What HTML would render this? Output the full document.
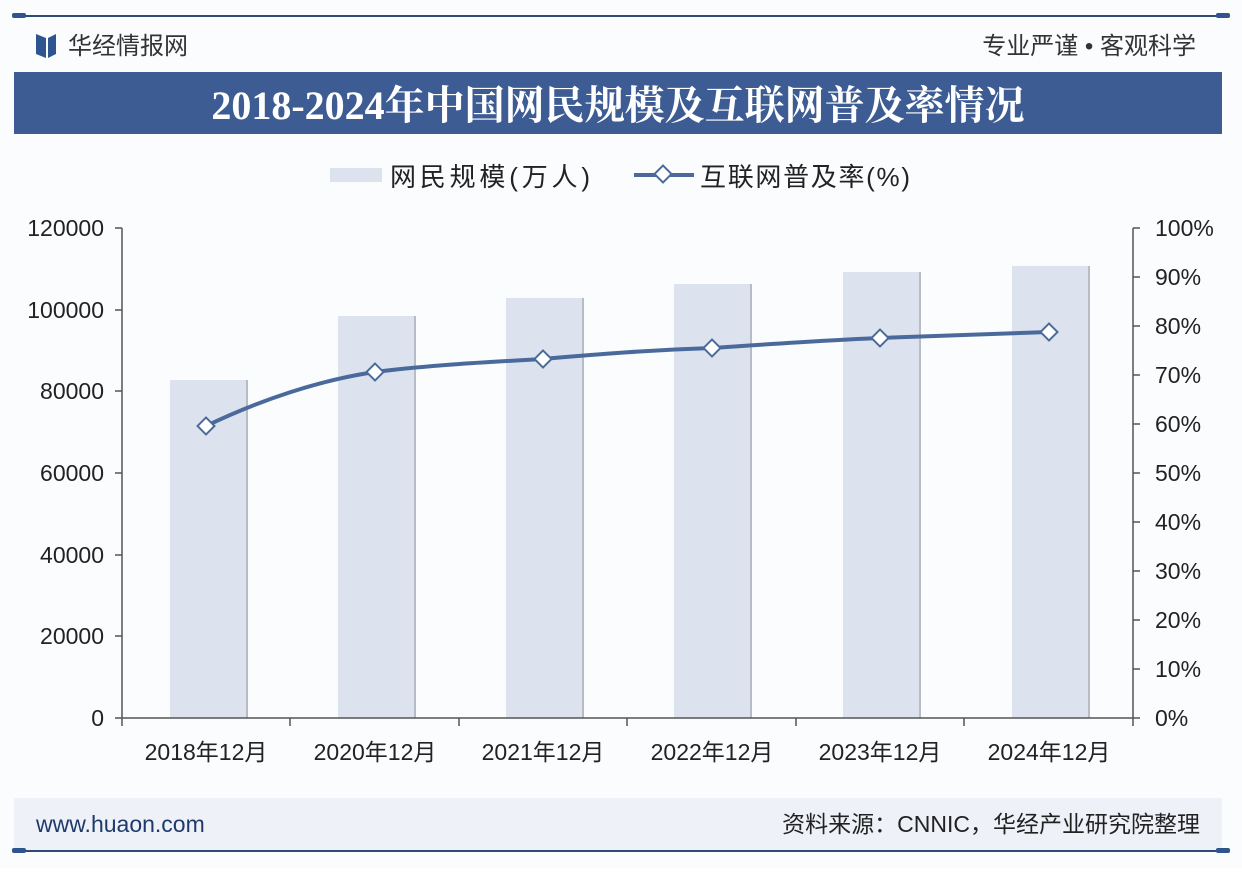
<!DOCTYPE html>
<html><head><meta charset="utf-8"><style>
body{margin:0;width:1242px;height:868px;background:#fff;overflow:hidden;font-family:"Liberation Sans","Noto Sans CJK SC",sans-serif}
</style></head><body>
<svg width="1242" height="868" xmlns="http://www.w3.org/2000/svg" style="font-family:'Liberation Sans','Noto Sans CJK SC',sans-serif">
<rect x="0" y="0" width="1242" height="868" fill="#fbfcfd"/>
<line x1="14" y1="16" x2="1228" y2="16" stroke="#2f4a75" stroke-width="2"/>
<rect x="12" y="13" width="14" height="5" rx="2" fill="#2f5590"/><rect x="1216" y="13" width="14" height="5" rx="2" fill="#2f5590"/>
<path d="M36 34 L46 38 L46 58 L36 54Z M56 34 L48 38 L48 58 L56 54Z" fill="#2f5590"/>
<text x="68" y="54" font-size="24" fill="#333">华经情报网</text>
<text x="1196" y="54" font-size="24" fill="#333" text-anchor="end">专业严谨 • 客观科学</text>
<rect x="14" y="72" width="1208" height="62" fill="#3d5c93"/>
<text x="618" y="119" font-size="40" font-weight="bold" fill="#fff" text-anchor="middle" font-family="'Liberation Serif','Noto Serif CJK SC',serif">2018-2024年中国网民规模及互联网普及率情况</text>
<rect x="330" y="168" width="52" height="14" fill="#dde3ee"/>
<text x="390" y="186" font-size="26" fill="#222" textLength="200">网民规模(万人)</text>
<line x1="634" y1="175" x2="694" y2="175" stroke="#4a6a9c" stroke-width="4"/>
<rect x="657" y="168" width="12" height="12" fill="#fff" stroke="#4a6a9c" stroke-width="2" transform="rotate(45 663 174)"/>
<text x="700" y="186" font-size="26" fill="#222" textLength="210">互联网普及率(%)</text>
<g fill="#dde3ee">
<rect x="170" y="380" width="76" height="338"/>
<rect x="338" y="316" width="76" height="402"/>
<rect x="506" y="298" width="76" height="420"/>
<rect x="674" y="284" width="76" height="434"/>
<rect x="843" y="272" width="76" height="446"/>
<rect x="1012" y="266" width="76" height="452"/>
</g>
<g stroke="#b8bcc4" stroke-width="2">
<line x1="247" y1="380" x2="247" y2="718"/><line x1="415" y1="316" x2="415" y2="718"/><line x1="583" y1="298" x2="583" y2="718"/><line x1="751" y1="284" x2="751" y2="718"/><line x1="920" y1="272" x2="920" y2="718"/><line x1="1089" y1="266" x2="1089" y2="718"/>
</g>
<g stroke="#555" stroke-width="1.5" fill="none">
<line x1="122" y1="228" x2="122" y2="718"/><line x1="1133" y1="228" x2="1133" y2="718"/>
<line x1="115" y1="718" x2="1140" y2="718"/>
</g>
<g stroke="#555" stroke-width="1.5">
<line x1="115" y1="228" x2="122" y2="228"/><line x1="115" y1="310" x2="122" y2="310"/><line x1="115" y1="391" x2="122" y2="391"/><line x1="115" y1="473" x2="122" y2="473"/><line x1="115" y1="555" x2="122" y2="555"/><line x1="115" y1="636" x2="122" y2="636"/>
<line x1="1133" y1="228" x2="1140" y2="228"/><line x1="1133" y1="277" x2="1140" y2="277"/><line x1="1133" y1="326" x2="1140" y2="326"/><line x1="1133" y1="375" x2="1140" y2="375"/><line x1="1133" y1="424" x2="1140" y2="424"/><line x1="1133" y1="473" x2="1140" y2="473"/><line x1="1133" y1="522" x2="1140" y2="522"/><line x1="1133" y1="571" x2="1140" y2="571"/><line x1="1133" y1="620" x2="1140" y2="620"/><line x1="1133" y1="669" x2="1140" y2="669"/>
<line x1="122" y1="718" x2="122" y2="726"/><line x1="290" y1="718" x2="290" y2="726"/><line x1="459" y1="718" x2="459" y2="726"/><line x1="627" y1="718" x2="627" y2="726"/><line x1="796" y1="718" x2="796" y2="726"/><line x1="964" y1="718" x2="964" y2="726"/><line x1="1133" y1="718" x2="1133" y2="726"/>
</g>
<g font-size="23" fill="#222" text-anchor="end">
<text x="104" y="236">120000</text><text x="104" y="318">100000</text><text x="104" y="399">80000</text><text x="104" y="481">60000</text><text x="104" y="563">40000</text><text x="104" y="644">20000</text><text x="104" y="726">0</text>
</g>
<g font-size="23" fill="#222">
<text x="1155" y="236">100%</text><text x="1155" y="285">90%</text><text x="1155" y="334">80%</text><text x="1155" y="383">70%</text><text x="1155" y="432">60%</text><text x="1155" y="481">50%</text><text x="1155" y="530">40%</text><text x="1155" y="579">30%</text><text x="1155" y="628">20%</text><text x="1155" y="677">10%</text><text x="1155" y="726">0%</text>
</g>
<g font-size="23" fill="#222" text-anchor="middle">
<text x="206" y="760">2018年12月</text><text x="375" y="760">2020年12月</text><text x="543" y="760">2021年12月</text><text x="712" y="760">2022年12月</text><text x="880" y="760">2023年12月</text><text x="1049" y="760">2024年12月</text>
</g>
<path d="M206 426 C260 400 320 380 375 372 C430 365 490 362 543 359 C600 354 650 350 712 348 C770 344 830 340 880 338 C940 336 1000 334 1049 332" fill="none" stroke="#4a6a9c" stroke-width="4"/>
<g fill="#fff" stroke="#4a6a9c" stroke-width="2">
<rect x="200" y="420" width="12" height="12" transform="rotate(45 206 426)"/>
<rect x="369" y="366" width="12" height="12" transform="rotate(45 375 372)"/>
<rect x="537" y="353" width="12" height="12" transform="rotate(45 543 359)"/>
<rect x="706" y="342" width="12" height="12" transform="rotate(45 712 348)"/>
<rect x="874" y="332" width="12" height="12" transform="rotate(45 880 338)"/>
<rect x="1043" y="326" width="12" height="12" transform="rotate(45 1049 332)"/>
</g>
<rect x="14" y="798" width="1208" height="52" fill="#eef1f7"/>
<line x1="14" y1="851" x2="1228" y2="851" stroke="#2f4a75" stroke-width="2"/>
<rect x="12" y="848" width="14" height="5" rx="2" fill="#2f5590"/><rect x="1216" y="848" width="14" height="5" rx="2" fill="#2f5590"/>
<text x="36" y="832" font-size="23" fill="#1f3a6a">www.huaon.com</text>
<text x="1200" y="832" font-size="23" fill="#222" text-anchor="end">资料来源：CNNIC，华经产业研究院整理</text>
</svg>
</body></html>
